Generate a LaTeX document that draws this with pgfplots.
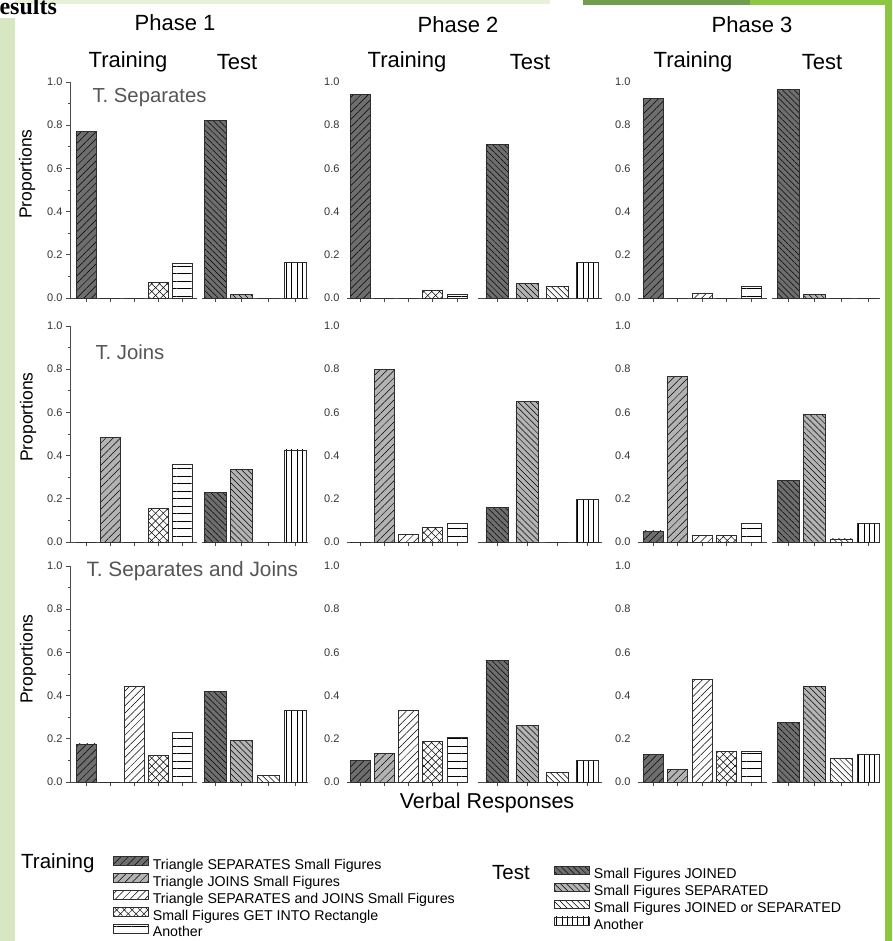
\documentclass[border=0pt]{standalone}
\usepackage{fontspec}
\setmainfont{Liberation Sans}
\newfontfamily\titleserif{Liberation Serif}
\usepackage{pgfplots}
\pgfplotsset{compat=1.18}
\usetikzlibrary{patterns.meta}

\definecolor{dk}{HTML}{6E6E6E}
\definecolor{md}{HTML}{B3B3B3}
\definecolor{lt}{HTML}{FCFCFC}
\definecolor{edge}{HTML}{2E2E2E}
\definecolor{axgray}{HTML}{4A4A4A}
\definecolor{ticktxt}{HTML}{333333}
\definecolor{paneltxt}{HTML}{555555}
\definecolor{greenL}{HTML}{D7E7C1}
\definecolor{greenM}{HTML}{8DC63F}
\definecolor{greenD}{HTML}{6E9E4E}

\newcommand\fs[1]{\fontsize{#1}{#1}\selectfont}

% fills for the bar categories
\tikzset{
  hatchNE/.style={postaction={pattern={Lines[angle=45,distance=5.2pt,line width=0.5pt]},pattern color=black}},
  hatchNW/.style={postaction={pattern={Lines[angle=-45,distance=4.2pt,line width=0.5pt]},pattern color=black}},
  fTrA/.style={draw=edge,line width=0.8pt,fill=dk,hatchNE},
  fTrB/.style={draw=edge,line width=0.8pt,fill=md,hatchNE},
  fTrC/.style={draw=edge,line width=0.8pt,fill=lt,hatchNE},
  fTrD/.style={draw=edge,line width=0.8pt,fill=lt,
     postaction={pattern={Lines[angle=45,distance=5.5pt,line width=0.5pt]},pattern color=black},
     postaction={pattern={Lines[angle=-45,distance=5.5pt,line width=0.5pt]},pattern color=black}},
  fTrE/.style={draw=edge,line width=0.8pt,fill=lt,
     postaction={pattern={Lines[angle=0,distance=7.5pt,line width=0.5pt]},pattern color=black}},
  fTeA/.style={draw=edge,line width=0.8pt,fill=dk,hatchNW},
  fTeB/.style={draw=edge,line width=0.8pt,fill=md,hatchNW},
  fTeC/.style={draw=edge,line width=0.8pt,fill=lt,hatchNW},
  fTeD/.style={draw=edge,line width=0.8pt,fill=lt,
     postaction={pattern={Lines[angle=90,distance=5.3pt,line width=0.5pt]},pattern color=black}},
}

\pgfplotsset{
  panel/.style={
    scale only axis, height=216pt, ymin=0, ymax=1,
    anchor=south west,
    axis x line=bottom, axis y line=left,
    axis line style={-, axgray, line width=0.9pt},
    tick style={axgray, line width=0.8pt},
    tick align=outside, major tick length=4pt, minor tick length=2pt,
    ytick={0,0.2,0.4,0.6,0.8,1},
    xticklabels={},
    yticklabel style={font=\fs{11}, text=ticktxt},
    /pgf/number format/.cd, fixed, fixed zerofill, precision=1, assume math mode=true,
  },
  noyline/.style={y axis line style={draw=none}, ytick style={draw=none}},
  trbar/.style={ybar, bar shift=0pt, bar width=20pt, forget plot},
  tebar/.style={ybar, bar shift=0pt, bar width=22pt, forget plot},
  trC1/.style={panel, at={(70pt,#1)}, width=127pt, xmin=0.333, xmax=5.625, xtick={1,2,3,4,5}, minor y tick num=1},
  teC1/.style={panel, noyline, at={(202pt,#1)}, width=106pt, xmin=0.51, xmax=4.49, xtick={1,2,3,4}, yticklabels={}},
  trC2/.style={panel, noyline, at={(347pt,#1)}, width=121pt, xmin=0.46, xmax=5.45, xtick={1,2,3,4,5}},
  teC2/.style={panel, noyline, at={(478pt,#1)}, width=124pt, xmin=0.37, xmax=4.5, xtick={1,2,3,4}, yticklabels={}},
  trC3/.style={panel, noyline, at={(638pt,#1)}, width=129pt, xmin=0.39, xmax=5.65, xtick={1,2,3,4,5}},
  teC3/.style={panel, noyline, at={(772pt,#1)}, width=108pt, xmin=0.4, xmax=4.45, xtick={1,2,3,4}, yticklabels={}},
  swatch/.style={legend image code/.code={\draw[##1] (0pt,0.5pt) rectangle (35pt,9pt);}},
  keybox/.style={
    legend cell align=left,
    legend style={draw=none, fill=none, inner sep=0pt, outer sep=0pt,
      font=\fs{14.2}, row sep=0.5pt, column sep=4pt,
      nodes={inner sep=0pt, text height=10.5pt, text depth=3.5pt, text=black}},
  },
}

% five training bars / four test bars
\newcommand\trainbars[5]{%
  \addplot[trbar, fTrA] coordinates {(1,#1)};
  \addplot[trbar, fTrB] coordinates {(2,#2)};
  \addplot[trbar, fTrC] coordinates {(3,#3)};
  \addplot[trbar, fTrD] coordinates {(4,#4)};
  \addplot[trbar, fTrE] coordinates {(5,#5)};}
\newcommand\testbars[4]{%
  \addplot[tebar, fTeA] coordinates {(1,#1)};
  \addplot[tebar, fTeB] coordinates {(2,#2)};
  \addplot[tebar, fTeC] coordinates {(3,#3)};
  \addplot[tebar, fTeD] coordinates {(4,#4)};}

\begin{document}
\begin{tikzpicture}
\path[use as bounding box] (0pt,0pt) rectangle (892pt,-941pt);
\begin{scope}
\clip (0pt,0pt) rectangle (892pt,-941pt);
% slide frame
\fill[greenL] (0pt,-18pt) rectangle (15pt,-941pt);
\fill[greenL!60] (15pt,0pt) rectangle (550pt,-4pt);
\fill[greenD] (583pt,0pt) rectangle (750pt,-5pt);
\fill[greenM] (750pt,0pt) rectangle (892pt,-5pt);
\fill[greenM] (885pt,0pt) rectangle (892pt,-941pt);
\node[anchor=base west, inner sep=0pt, font=\titleserif\bfseries\fs{24}] at (-18pt,-15pt) {Results};
\end{scope}

% column and group headings
\node[font=\fs{22}] at (175pt,-23pt) {Phase 1};
\node[font=\fs{22}] at (458pt,-25pt) {Phase 2};
\node[font=\fs{22}] at (752pt,-25pt) {Phase 3};
\node[font=\fs{22}] at (128pt,-62pt) {Training};
\node[font=\fs{22}] at (237pt,-62pt) {Test};
\node[font=\fs{22}] at (407pt,-62pt) {Training};
\node[font=\fs{22}] at (530pt,-62pt) {Test};
\node[font=\fs{22}] at (693pt,-62pt) {Training};
\node[font=\fs{22}] at (822pt,-62pt) {Test};

% y-axis titles
\node[rotate=90, font=\fs{17.5}] at (27pt,-174pt) {Proportions};
\node[rotate=90, font=\fs{17.5}] at (28pt,-417pt) {Proportions};
\node[rotate=90, font=\fs{17.5}] at (28pt,-659pt) {Proportions};

% ---------- row 1: T. Separates ----------
\begin{axis}[trC1=-298pt]
  \trainbars{0.77}{0}{0}{0.07}{0.16}
\end{axis}
\begin{axis}[teC1=-298pt]
  \testbars{0.82}{0.015}{0}{0.165}
\end{axis}
\begin{axis}[trC2=-298pt]
  \trainbars{0.942}{0}{0}{0.033}{0.017}
\end{axis}
\begin{axis}[teC2=-298pt]
  \testbars{0.71}{0.069}{0.053}{0.163}
\end{axis}
\begin{axis}[trC3=-298pt]
  \trainbars{0.925}{0}{0.02}{0}{0.056}
\end{axis}
\begin{axis}[teC3=-298pt]
  \testbars{0.965}{0.017}{0}{0}
\end{axis}

% ---------- row 2: T. Joins ----------
\begin{axis}[trC1=-542pt]
  \trainbars{0}{0.483}{0}{0.156}{0.358}
\end{axis}
\begin{axis}[teC1=-542pt]
  \testbars{0.23}{0.336}{0}{0.426}
\end{axis}
\begin{axis}[trC2=-542pt]
  \trainbars{0}{0.797}{0.033}{0.069}{0.088}
\end{axis}
\begin{axis}[teC2=-542pt]
  \testbars{0.158}{0.651}{0}{0.197}
\end{axis}
\begin{axis}[trC3=-542pt]
  \trainbars{0.051}{0.768}{0.032}{0.032}{0.087}
\end{axis}
\begin{axis}[teC3=-542pt]
  \testbars{0.284}{0.589}{0.014}{0.087}
\end{axis}

% ---------- row 3: T. Separates and Joins ----------
\begin{axis}[trC1=-782pt, swatch, keybox,
    legend style={at={(0.3386,-0.3445)}, anchor=north west}]
  \trainbars{0.176}{0}{0.444}{0.122}{0.23}
  \addlegendimage{fTrA}\addlegendentry{Triangle SEPARATES Small Figures}
  \addlegendimage{fTrB}\addlegendentry{Triangle JOINS Small Figures}
  \addlegendimage{fTrC}\addlegendentry{Triangle SEPARATES and JOINS Small Figures}
  \addlegendimage{fTrD}\addlegendentry{Small Figures GET INTO Rectangle}
  \addlegendimage{fTrE}\addlegendentry{Another}
\end{axis}
\begin{axis}[teC1=-782pt]
  \testbars{0.418}{0.191}{0.031}{0.33}
\end{axis}
\begin{axis}[trC2=-782pt]
  \trainbars{0.099}{0.134}{0.331}{0.187}{0.206}
\end{axis}
\begin{axis}[teC2=-782pt, swatch, keybox,
    legend style={at={(0.613,-0.388)}, anchor=north west}]
  \testbars{0.563}{0.261}{0.046}{0.099}
  \addlegendimage{fTeA}\addlegendentry{Small Figures JOINED}
  \addlegendimage{fTeB}\addlegendentry{Small Figures SEPARATED}
  \addlegendimage{fTeC}\addlegendentry{Small Figures JOINED or SEPARATED}
  \addlegendimage{fTeD}\addlegendentry{Another}
\end{axis}
\begin{axis}[trC3=-782pt]
  \trainbars{0.127}{0.057}{0.476}{0.142}{0.142}
\end{axis}
\begin{axis}[teC3=-782pt]
  \testbars{0.275}{0.442}{0.108}{0.127}
\end{axis}

% panel captions
\node[anchor=west, text=paneltxt, font=\fs{20.3}] at (89pt,-98pt) {T. Separates};
\node[anchor=west, text=paneltxt, font=\fs{20.3}] at (92pt,-352pt) {T. Joins};
\node[anchor=west, text=paneltxt, font=\fs{20.8}] at (83pt,-571pt) {T. Separates and Joins};

% shared x title and key headings
\node[font=\fs{21.5}] at (487pt,-803pt) {Verbal Responses};
\node[anchor=west, inner sep=0pt, font=\fs{20.5}] at (21pt,-863pt) {Training};
\node[anchor=west, inner sep=0pt, font=\fs{20.5}] at (492pt,-873pt) {Test};
\end{tikzpicture}
\end{document}
